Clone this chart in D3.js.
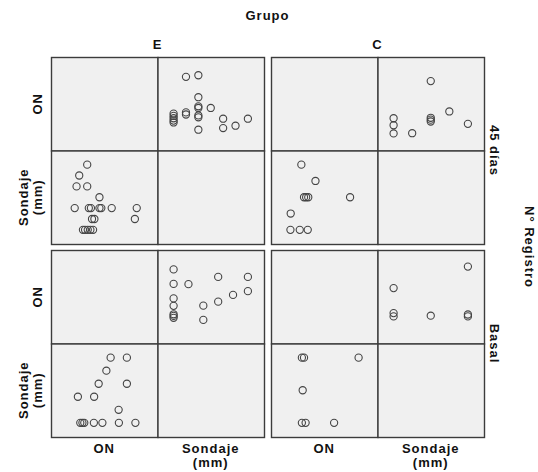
<!DOCTYPE html>
<html>
<head>
<meta charset="utf-8">
<script src="https://cdn.jsdelivr.net/npm/d3@7"></script>
<style>
  body { margin: 0; background: #fff; }
  text { font-family: "Liberation Sans", Arial, sans-serif; font-weight: bold; font-size: 13px; fill: #111; letter-spacing: 1px; }
</style>
</head>
<body>
<script>
// facet categories
var groups = ["E", "C"];
var registros = ["45 días", "Basal"];
var variables = ["ON", "Sondaje (mm)"];

// Grupo E, 45 dias
var e45Sondaje = [1.0, 1.0, 1.0, 1.0, 1.0, 1.5, 1.5, 1.5, 2.0, 2.0, 2.0, 2.0, 2.0, 2.0, 2.0, 2.5, 3.0, 3.0, 3.5, 4.0];
var e45ON      = [12.0, 12.8, 13.8, 14.8, 15.8, 15.4, 16.3, 31.5, 8.9, 14.2, 15.0, 18.2, 18.9, 22.8, 32.2, 18.2, 9.6, 13.6, 10.6, 13.6];

// Grupo C, 45 dias
var c45Sondaje = [1.0, 1.0, 1.0, 1.75, 2.5, 2.5, 2.5, 2.5, 3.25, 4.0];
var c45ON      = [7.3, 10.8, 13.8, 7.4, 12.4, 13.2, 14.0, 29.7, 16.7, 11.4];

// Grupo E, Basal
var eBasalSondaje = [1.0, 1.0, 1.0, 1.0, 1.0, 1.0, 1.0, 1.6, 2.2, 2.2, 2.8, 2.8, 3.4, 4.0, 4.0];
var eBasalON      = [11.0, 11.8, 12.5, 16.1, 19.3, 25.5, 31.7, 25.4, 10.1, 16.2, 17.9, 28.5, 20.8, 22.4, 28.5];

// Grupo C, Basal
var cBasalSondaje = [1.0, 1.0, 1.0, 2.5, 4.0, 4.0, 4.0];
var cBasalON      = [11.6, 13.0, 23.7, 11.9, 11.6, 12.4, 32.9];

var panels = [
  {grupo: "E", registro: "45 días", ON: e45ON, "Sondaje (mm)": e45Sondaje},
  {grupo: "C", registro: "45 días", ON: c45ON, "Sondaje (mm)": c45Sondaje},
  {grupo: "E", registro: "Basal", ON: eBasalON, "Sondaje (mm)": eBasalSondaje},
  {grupo: "C", registro: "Basal", ON: cBasalON, "Sondaje (mm)": cBasalSondaje}
];

var width = 538, height = 472;
var marginLeft = 51, marginTop = 57;
var cellW = 106.5, cellH = 93.5;
var gapX = 7, gapY = 6;
var blockW = cellW * 2, blockH = cellH * 2;

function blockX(g){ return marginLeft + groups.indexOf(g) * (blockW + gapX); }
function blockY(r){ return marginTop + registros.indexOf(r) * (blockH + gapY); }

// same scale for a variable in every panel
var domains = {"ON": [0, 40], "Sondaje (mm)": [0.35, 4.65]};
var xScales = {}, yScales = {};
variables.forEach(function(v){
  xScales[v] = d3.scaleLinear().domain(domains[v]).range([0, cellW]);
  yScales[v] = d3.scaleLinear().domain(domains[v]).range([cellH, 0]);
});

var svg = d3.select("body").append("svg")
  .attr("width", width)
  .attr("height", height);

var cells = [];
variables.forEach(function(rv, i){
  variables.forEach(function(cv, j){
    cells.push({row: rv, col: cv, i: i, j: j});
  });
});

var blocks = svg.selectAll("g.block").data(panels).enter()
  .append("g")
  .attr("class", "block")
  .attr("transform", function(d){ return "translate(" + blockX(d.grupo) + "," + blockY(d.registro) + ")"; });

blocks.each(function(p){
  var g = d3.select(this);
  var cg = g.selectAll("g.cell").data(cells).enter()
    .append("g")
    .attr("class", "cell")
    .attr("transform", function(c){ return "translate(" + (c.j * cellW) + "," + (c.i * cellH) + ")"; });

  cg.append("rect")
    .attr("x", 0.5).attr("y", 0.5)
    .attr("width", cellW).attr("height", cellH)
    .attr("fill", "#f0f0f0")
    .attr("stroke", "#3c3c3c")
    .attr("stroke-width", 1.4);

  cg.filter(function(c){ return c.i != c.j; }).each(function(c){
    var pts = p[c.col].map(function(v, k){ return {x: v, y: p[c.row][k]}; });
    d3.select(this).selectAll("circle").data(pts).enter()
      .append("circle")
      .attr("cx", function(d){ return xScales[c.col](d.x); })
      .attr("cy", function(d){ return yScales[c.row](d.y); })
      .attr("r", 3.6)
      .attr("fill", "none")
      .attr("stroke", "#444")
      .attr("stroke-width", 1.1);
  });
});

// titles
svg.append("text")
  .attr("x", marginLeft + blockW + gapX / 2).attr("y", 20)
  .attr("text-anchor", "middle")
  .text("Grupo");

svg.selectAll("text.grp").data(groups).enter()
  .append("text")
  .attr("class", "grp")
  .attr("x", function(d){ return blockX(d) + blockW / 2; })
  .attr("y", 49)
  .attr("text-anchor", "middle")
  .text(function(d){ return d; });

function splitLabel(v){
  var k = v.indexOf(" (");
  return k < 0 ? [v] : [v.slice(0, k), v.slice(k + 1)];
}

// bottom variable labels
groups.forEach(function(g){
  variables.forEach(function(v, j){
    var t = svg.append("text")
      .attr("x", blockX(g) + j * cellW + cellW / 2)
      .attr("y", 453)
      .attr("text-anchor", "middle");
    splitLabel(v).forEach(function(line, n){
      t.append("tspan")
        .attr("x", blockX(g) + j * cellW + cellW / 2)
        .attr("dy", n == 0 ? 0 : 14)
        .text(line);
    });
  });
});

// left variable labels
registros.forEach(function(r){
  variables.forEach(function(v, i){
    var lines = splitLabel(v);
    var cy = blockY(r) + i * cellH + cellH / 2;
    lines.forEach(function(line, n){
      var cx = 37 - (lines.length - 1 - n) * 14;
      svg.append("text")
        .attr("transform", "translate(" + cx + "," + cy + ") rotate(-90)")
        .attr("text-anchor", "middle")
        .attr("dy", "0.35em")
        .text(line);
    });
  });
});

// right labels
svg.selectAll("text.reg").data(registros).enter()
  .append("text")
  .attr("class", "reg")
  .attr("transform", function(d){ return "translate(495," + (blockY(d) + blockH / 2) + ") rotate(90)"; })
  .attr("text-anchor", "middle")
  .attr("dy", "0.35em")
  .text(function(d){ return d; });

svg.append("text")
  .attr("transform", "translate(530," + (marginTop + blockH + gapY / 2) + ") rotate(90)")
  .attr("text-anchor", "middle")
  .attr("dy", "0.35em")
  .text("N° Registro");
</script>
</body>
</html>
